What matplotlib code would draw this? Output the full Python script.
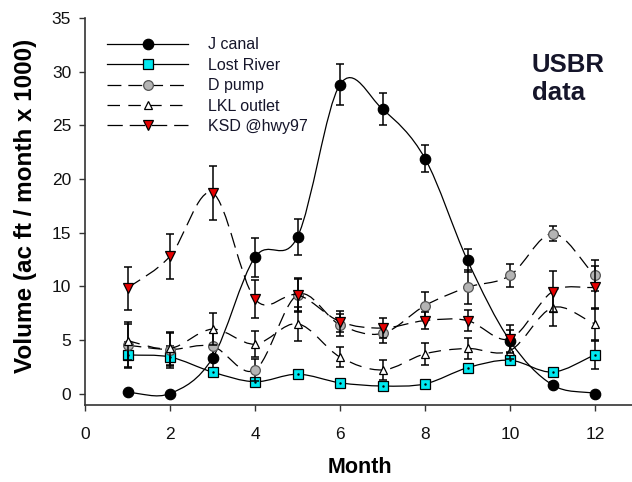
import numpy as np
import matplotlib
matplotlib.use('Agg')
import matplotlib.pyplot as plt
from matplotlib.path import Path
from matplotlib.patches import PathPatch
from matplotlib.lines import Line2D

plt.rcParams['font.family'] = ['Liberation Sans', 'DejaVu Sans']
plt.rcParams['lines.scale_dashes'] = False

# monthly volumes (ac ft / month x 1000)
months = np.arange(1, 13)
j_canal = [0.1, 0.0, 3.3, 12.7, 14.6, 28.8, 26.5, 21.9, 12.4, 4.9, 0.8, 0.0]
j_canal_err = [0.0, 0.0, 1.0, 1.8, 1.7, 1.9, 1.5, 1.3, 1.1, 1.0, 0.3, 0.0]
lost_river = [3.6, 3.4, 2.0, 1.1, 1.8, 1.0, 0.7, 0.9, 2.4, 3.1, 2.0, 3.6]
lost_river_err = [1.2, 1.0, 0.3, 0.3, 0.3, 0.2, 0.3, 0.3, 0.3, 0.4, 0.3, 1.3]
d_pump = [4.5, 4.1, 4.4, 2.2, 9.2, 6.4, 5.6, 8.2, 9.9, 11.0, 14.9, 11.0]
d_pump_err = [2.0, 1.5, 1.2, 1.0, 1.5, 1.0, 0.9, 1.3, 1.6, 1.1, 0.7, 1.4]
lkl_outlet = [4.9, 4.2, 6.0, 4.6, 6.5, 3.4, 2.2, 3.7, 4.2, 4.0, 8.0, 6.5]
lkl_outlet_err = [1.8, 1.5, 1.5, 1.2, 1.6, 0.9, 0.9, 1.0, 1.0, 0.8, 1.7, 1.5]
ksd = [9.8, 12.8, 18.7, 8.8, 9.2, 6.7, 6.1, 6.8, 6.8, 5.1, 9.5, 9.9]
ksd_err = [2.0, 2.1, 2.5, 1.8, 1.6, 1.0, 0.9, 0.8, 1.0, 1.3, 1.9, 2.0]

labels = ['J canal', 'Lost River', 'D pump', 'LKL outlet', 'KSD @hwy97']


def smooth_path(x, y):
    # Catmull-Rom curve through the points, drawn as cubic bezier pieces
    x = np.asarray(x, float)
    y = np.asarray(y, float)
    px = np.concatenate([[2 * x[0] - x[1]], x, [2 * x[-1] - x[-2]]])
    py = np.concatenate([[2 * y[0] - y[1]], y, [2 * y[-1] - y[-2]]])
    verts = [(x[0], y[0])]
    codes = [Path.MOVETO]
    for i in range(len(x) - 1):
        c1 = (x[i] + (px[i + 2] - px[i]) / 6, y[i] + (py[i + 2] - py[i]) / 6)
        c2 = (x[i + 1] - (px[i + 3] - px[i + 1]) / 6, y[i + 1] - (py[i + 3] - py[i + 1]) / 6)
        verts += [c1, c2, (x[i + 1], y[i + 1])]
        codes += [Path.CURVE4] * 3
    return Path(verts, codes)


styles = [
    dict(ls='-', marker='o', mfc='black', mec='black', ms=7.5),
    dict(ls='-', marker='s', mfc='#00e8f0', mec='black', ms=6.5),
    dict(ls=(0, (10, 5)), marker='o', mfc='#b4b4b4', mec='#555555', ms=7),
    dict(ls=(0, (9, 6)), marker='^', mfc='white', mec='black', ms=5.5),
    dict(ls=(0, (11, 5)), marker='v', mfc='#e60000', mec='black', ms=6.5),
]
series = [(j_canal, j_canal_err), (lost_river, lost_river_err), (d_pump, d_pump_err),
          (lkl_outlet, lkl_outlet_err), (ksd, ksd_err)]

fig = plt.figure(figsize=(6.32, 4.82), dpi=100)
ax = fig.add_axes([85 / 632, 77 / 482, 547 / 632, 387 / 482])

for k, ((vals, err), st) in enumerate(zip(series, styles)):
    z = 2 + k
    ax.add_patch(PathPatch(smooth_path(months, vals), facecolor='none', edgecolor='black',
                           lw=0.9, linestyle=st['ls'], zorder=z))
    ax.errorbar(months, vals, yerr=err, fmt='none', ecolor='black', elinewidth=1.1,
                capsize=3, capthick=1.1, zorder=z)
    ax.plot(months, vals, linestyle='none', marker=st['marker'], mfc=st['mfc'],
            mec=st['mec'], ms=st['ms'], mew=0.9, zorder=z)
    if st['marker'] == 's':
        ax.plot(months, vals, linestyle='none', marker='.', color='black', ms=1.5, zorder=z)

handles = [Line2D([], [], color='black', lw=0.9, linestyle=st['ls'], marker=st['marker'],
                  mfc=st['mfc'], mec=st['mec'], ms=st['ms'], mew=0.9)
           for st in styles]
ax.legend(handles, labels, loc='upper left', bbox_to_anchor=(0.04, 0.95), frameon=False,
          fontsize=11.5, handlelength=5.1, handletextpad=1.25, labelspacing=0.34,
          borderpad=0, borderaxespad=0, labelcolor='#15152a')

ax.text(0.817, 0.91, 'USBR\ndata', transform=ax.transAxes, ha='left', va='top',
        fontsize=18.5, fontweight='bold', color='#15152a', linespacing=1.2)

ax.set_xlim(0, 12.87)
ax.set_ylim(-1.07, 35)
ax.set_xticks(range(0, 13, 2))
ax.set_yticks(range(0, 36, 5))
ax.spines['top'].set_visible(False)
ax.spines['right'].set_visible(False)
ax.spines['left'].set_bounds(-1.07, 35)
for s in ['left', 'bottom']:
    ax.spines[s].set_color('#333333')
    ax.spines[s].set_linewidth(1.2)
ax.tick_params(axis='both', direction='out', length=4, width=1, colors='#333333',
               labelsize=12.5, labelcolor='#111111')
ax.tick_params(axis='x', pad=12)
ax.tick_params(axis='y', pad=6)

ax.set_xlabel('Month', fontsize=15.5, fontweight='bold')
ax.set_ylabel('Volume (ac ft / month x 1000)', fontsize=17.5, fontweight='bold')
ax.xaxis.set_label_coords(0.503, -0.135)
ax.yaxis.set_label_coords(-0.088, 0.514)

fig.savefig('out.png', dpi=100)
